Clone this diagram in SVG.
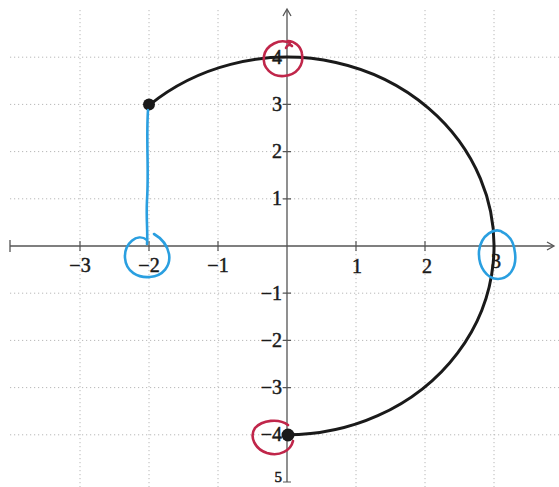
<svg xmlns="http://www.w3.org/2000/svg" width="559" height="487" viewBox="0 0 559 487">
<style>
.grid{stroke:#b8b8b8;stroke-width:1;stroke-dasharray:1.2 2.8;fill:none}
.axis{stroke:#555;stroke-width:1.3;fill:none}
.tick{stroke:#555;stroke-width:1.2}
.lbl{font-family:"Liberation Serif","Times New Roman",serif;font-size:20px;fill:#1a1a1a;stroke:#1a1a1a;stroke-width:0.5}
.ylbl{text-anchor:end}
.xlbl{text-anchor:middle}
.curve{stroke:#1a1a1a;stroke-width:3;fill:none;stroke-linecap:round}
.blue{stroke:#2a9fe0;stroke-width:2.6;fill:none;stroke-linecap:round}
.red{stroke:#c0264a;stroke-width:2.6;fill:none;stroke-linecap:round}
.dot{fill:#1a1a1a}
</style>
<rect width="559" height="487" fill="#ffffff"/>
<g id="grid">
<path class="grid" d="M10,57.2H559 M10,104.4H559 M10,151.6H559 M10,198.8H559 M10,293.2H559 M10,340.4H559 M10,387.6H559 M10,434.8H559"/>
<path class="grid" d="M80,10V487 M149,10V487 M218,10V487 M356,10V487 M425,10V487 M494,10V487"/>
</g>
<g id="axes">
<path class="axis" d="M10,246H553 M287,10V482"/>
<path class="axis" d="M10,240V252"/>
<path class="axis" d="M547,242L554,246L547,250"/>
<path class="axis" d="M283,16L287,9L291,16"/>
<path class="tick" d="M80,241V251 M149,241V251 M218,241V251 M356,241V251 M425,241V251 M494,241V251"/>
<path class="tick" d="M283,57.2H291 M283,104.4H291 M283,151.6H291 M283,198.8H291 M283,293.2H291 M283,340.4H291 M283,387.6H291 M283,434.8H291 M283,482H291"/>
</g>
<g id="labels">
<text class="lbl ylbl" x="282" y="64">4</text>
<text class="lbl ylbl" x="282" y="111">3</text>
<text class="lbl ylbl" x="282" y="158">2</text>
<text class="lbl ylbl" x="282" y="205">1</text>
<text class="lbl ylbl" x="282" y="300">−1</text>
<text class="lbl ylbl" x="282" y="347">−2</text>
<text class="lbl ylbl" x="282" y="394">−3</text>
<text class="lbl ylbl" x="282" y="441">−4</text>
<text class="lbl ylbl" x="282" y="482" style="font-size:15px">5</text>
<text class="lbl xlbl" x="80" y="272">−3</text>
<text class="lbl xlbl" x="149" y="272">−2</text>
<text class="lbl xlbl" x="218" y="272">−1</text>
<text class="lbl xlbl" x="357" y="273">1</text>
<text class="lbl xlbl" x="427" y="273">2</text>
<text class="lbl xlbl" x="496" y="268">3</text>
</g>
<g id="curve">
<path class="curve" d="M149,105.3 A207,188.8 0 1 1 287,434.8"/>
<circle class="dot" cx="149" cy="104.5" r="6"/>
<circle class="dot" cx="288" cy="435" r="6.5"/>
</g>
<g id="annotations">
<path class="blue" d="M148,110 C146,140 149,170 147,200 C146,220 148,232 147,244"/>
<path class="blue" d="M147,240 C137,232 124,244 125,258 C126,272 138,278 150,277 C163,276 171,266 169,254 C167,244 161,238 154,234"/>
<path class="blue" d="M504,233 C495,226 481,235 479,251 C478,267 487,279 498,279 C509,279 517,268 515,253 C514,242 509,235 502,232"/>
<path class="red" d="M290,43 C280,38 266,45 264,56 C262,68 272,77 284,76 C297,75 304,65 302,54 C301,46 294,41 288,41 M286,48 C287,45 290,44 292,46"/>
<path class="red" d="M288,425 C279,418 262,420 255,428 C249,437 255,449 267,453 C280,457 291,450 293,441"/>
</g>
</svg>
